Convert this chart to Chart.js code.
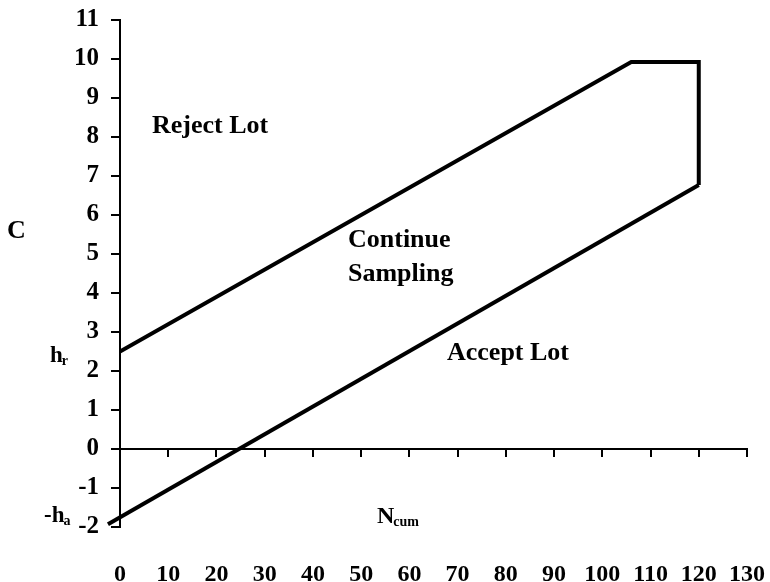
<!DOCTYPE html>
<html>
<head>
<meta charset="utf-8">
<script src="https://cdn.jsdelivr.net/npm/chart.js@4.4.1/dist/chart.umd.min.js"></script>
<style>
  html, body { margin: 0; padding: 0; background: #fff; }
  #wrap { width: 770px; height: 582px; position: relative; }
</style>
</head>
<body>
<div id="wrap"><canvas id="sprtChart"></canvas></div>
<script>
/* ============================================================
   Sequential sampling plan — C vs N_cum
   ============================================================ */

// upper (reject) boundary, capped then closed down to the accept line
const upperN = [0, 106, 120, 120];
const upperC = [2.5, 9.92, 9.92, 6.77];

// lower (accept) boundary
const lowerN = [-2.5, 120];
const lowerC = [-1.93, 6.77];

// tick labels
const xTicks = [0, 10, 20, 30, 40, 50, 60, 70, 80, 90, 100, 110, 120, 130];
const yTicks = [-2, -1, 0, 1, 2, 3, 4, 5, 6, 7, 8, 9, 10, 11];

const SERIF = "'Liberation Serif', 'Times New Roman', serif";

function toPoints(xs, ys) {
  return xs.map((x, i) => ({ x: x, y: ys[i] }));
}

function setTicks(values) {
  return scale => { scale.ticks = values.map(v => ({ value: v })); };
}

// free text on the plot (region names, axis names with subscripts)
const notes = [
  { text: "Reject Lot", x: 152, y: 133, size: 26 },
  { text: "Continue", x: 348, y: 247, size: 26 },
  { text: "Sampling", x: 348, y: 281, size: 26 },
  { text: "Accept Lot", x: 447, y: 360, size: 26 },
  { text: "C", x: 7, y: 238, size: 26 },
  { text: "h", sub: "r", x: 50, y: 362, size: 23 },
  { text: "-h", sub: "a", x: 44, y: 522, size: 23 },
  { text: "N", sub: "cum", x: 377, y: 523, size: 24 }
];

const notesPlugin = {
  id: "notes",
  afterDraw(chart) {
    const c = chart.ctx;
    c.save();
    c.fillStyle = "#000";
    c.textBaseline = "alphabetic";
    c.textAlign = "left";
    notes.forEach(n => {
      c.font = "bold " + n.size + "px " + SERIF;
      c.fillText(n.text, n.x, n.y);
      if (n.sub) {
        const w = c.measureText(n.text).width;
        c.font = "bold " + Math.round(n.size * 0.6) + "px " + SERIF;
        c.fillText(n.sub, n.x + w - 1, n.y + 3);
      }
    });
    c.restore();
  }
};

new Chart(document.getElementById("sprtChart"), {
  type: "line",
  data: {
    datasets: [
      {
        label: "Reject boundary",
        data: toPoints(upperN, upperC),
        borderColor: "#000",
        borderWidth: 4,
        pointRadius: 0,
        tension: 0,
        borderJoinStyle: "miter"
      },
      {
        label: "Accept boundary",
        data: toPoints(lowerN, lowerC),
        borderColor: "#000",
        borderWidth: 4,
        pointRadius: 0,
        tension: 0,
        clip: false
      }
    ]
  },
  options: {
    responsive: true,
    maintainAspectRatio: false,
    animation: false,
    devicePixelRatio: 1,
    layout: { padding: { top: 20, right: 23, left: 0, bottom: 0 } },
    plugins: {
      legend: { display: false },
      tooltip: { enabled: false }
    },
    scales: {
      x: {
        type: "linear",
        position: "bottom",
        min: 0,
        max: 130,
        afterBuildTicks: setTicks(xTicks),
        afterFit: s => { s.height = 55; s.paddingLeft = 0; s.paddingRight = 0; },
        grid: { display: false, drawTicks: false },
        border: { display: false },
        ticks: {
          color: "#000",
          padding: 33,
          maxRotation: 0,
          autoSkip: false,
          font: { family: SERIF, size: 24, weight: "bold" }
        }
      },
      // the visible N axis sits on C = 0
      x2: {
        type: "linear",
        position: { y: 0 },
        min: 0,
        max: 130,
        afterBuildTicks: setTicks(xTicks),
        afterFit: s => { s.paddingLeft = 0; s.paddingRight = 0; },
        grid: { drawOnChartArea: false, drawTicks: true, tickLength: 7, color: "#000", lineWidth: 2 },
        border: { display: true, color: "#000", width: 2 },
        ticks: { display: false }
      },
      y: {
        type: "linear",
        min: -2,
        max: 11,
        afterBuildTicks: setTicks(yTicks),
        afterFit: s => { s.width = 120; s.paddingTop = 0; s.paddingBottom = 0; },
        grid: { drawOnChartArea: false, drawTicks: true, tickLength: 9, color: "#000", lineWidth: 2 },
        border: { display: true, color: "#000", width: 2 },
        ticks: {
          color: "#000",
          padding: 12,
          autoSkip: false,
          font: { family: SERIF, size: 25, weight: "bold" }
        }
      }
    }
  },
  plugins: [notesPlugin]
});
</script>
</body>
</html>
